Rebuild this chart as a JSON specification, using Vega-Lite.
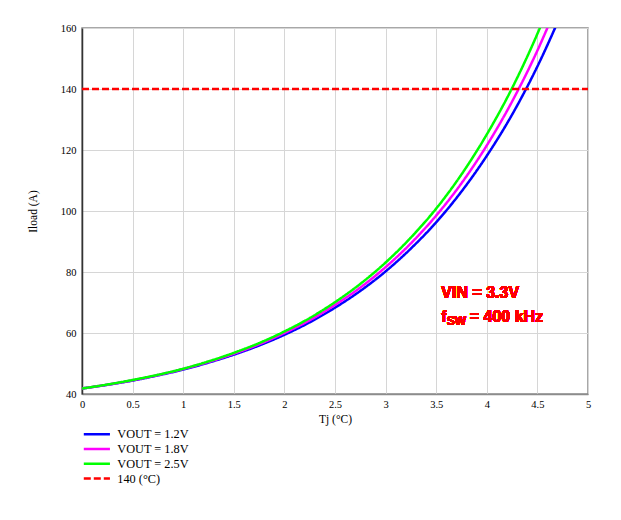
{
  "$schema": "https://vega.github.io/schema/vega-lite/v6.json",
  "width": 506,
  "height": 366,
  "autosize": {"type": "none"},
  "padding": {"left": 82, "top": 28, "right": 33, "bottom": 126},
  "background": "white",
  "config": {
    "view": {"stroke": "#8c8c8c", "strokeWidth": 1.5},
    "font": "Liberation Serif",
    "axis": {
      "labelFont": "Liberation Serif",
      "titleFont": "Liberation Serif",
      "labelFontSize": 10.5,
      "titleFontSize": 11.5,
      "titleFontWeight": "normal",
      "labelColor": "#000",
      "titleColor": "#000",
      "gridColor": "#d6d6d6",
      "gridWidth": 1,
      "ticks": false,
      "domainWidth": 1.5
    },
    "legend": {
      "labelFont": "Liberation Serif",
      "labelFontSize": 12.3,
      "labelColor": "#000"
    }
  },
  "data": {
    "values": [
      {"series": "VOUT = 1.2V", "t": 0, "i": 41.8},
      {"series": "VOUT = 1.2V", "t": 0.25, "i": 43.0},
      {"series": "VOUT = 1.2V", "t": 0.5, "i": 44.4},
      {"series": "VOUT = 1.2V", "t": 0.75, "i": 46.1},
      {"series": "VOUT = 1.2V", "t": 1.0, "i": 48.0},
      {"series": "VOUT = 1.2V", "t": 1.25, "i": 50.3},
      {"series": "VOUT = 1.2V", "t": 1.5, "i": 52.9},
      {"series": "VOUT = 1.2V", "t": 1.75, "i": 55.9},
      {"series": "VOUT = 1.2V", "t": 2.0, "i": 59.4},
      {"series": "VOUT = 1.2V", "t": 2.25, "i": 63.5},
      {"series": "VOUT = 1.2V", "t": 2.5, "i": 68.3},
      {"series": "VOUT = 1.2V", "t": 2.75, "i": 73.8},
      {"series": "VOUT = 1.2V", "t": 3.0, "i": 80.2},
      {"series": "VOUT = 1.2V", "t": 3.25, "i": 87.7},
      {"series": "VOUT = 1.2V", "t": 3.5, "i": 96.3},
      {"series": "VOUT = 1.2V", "t": 3.75, "i": 106.4},
      {"series": "VOUT = 1.2V", "t": 4.0, "i": 118.1},
      {"series": "VOUT = 1.2V", "t": 4.25, "i": 131.6},
      {"series": "VOUT = 1.2V", "t": 4.5, "i": 147.4},
      {"series": "VOUT = 1.2V", "t": 4.75, "i": 165.7},
      {"series": "VOUT = 1.8V", "t": 0, "i": 41.8},
      {"series": "VOUT = 1.8V", "t": 0.25, "i": 43.05},
      {"series": "VOUT = 1.8V", "t": 0.5, "i": 44.5},
      {"series": "VOUT = 1.8V", "t": 0.75, "i": 46.2},
      {"series": "VOUT = 1.8V", "t": 1.0, "i": 48.2},
      {"series": "VOUT = 1.8V", "t": 1.25, "i": 50.5},
      {"series": "VOUT = 1.8V", "t": 1.5, "i": 53.2},
      {"series": "VOUT = 1.8V", "t": 1.75, "i": 56.3},
      {"series": "VOUT = 1.8V", "t": 2.0, "i": 60.0},
      {"series": "VOUT = 1.8V", "t": 2.25, "i": 64.2},
      {"series": "VOUT = 1.8V", "t": 2.5, "i": 69.2},
      {"series": "VOUT = 1.8V", "t": 2.75, "i": 74.9},
      {"series": "VOUT = 1.8V", "t": 3.0, "i": 81.6},
      {"series": "VOUT = 1.8V", "t": 3.25, "i": 89.4},
      {"series": "VOUT = 1.8V", "t": 3.5, "i": 98.5},
      {"series": "VOUT = 1.8V", "t": 3.75, "i": 109.1},
      {"series": "VOUT = 1.8V", "t": 4.0, "i": 121.5},
      {"series": "VOUT = 1.8V", "t": 4.25, "i": 135.9},
      {"series": "VOUT = 1.8V", "t": 4.5, "i": 152.6},
      {"series": "VOUT = 1.8V", "t": 4.75, "i": 172.1},
      {"series": "VOUT = 2.5V", "t": 0, "i": 41.8},
      {"series": "VOUT = 2.5V", "t": 0.25, "i": 43.1},
      {"series": "VOUT = 2.5V", "t": 0.5, "i": 44.6},
      {"series": "VOUT = 2.5V", "t": 0.75, "i": 46.3},
      {"series": "VOUT = 2.5V", "t": 1.0, "i": 48.3},
      {"series": "VOUT = 2.5V", "t": 1.25, "i": 50.7},
      {"series": "VOUT = 2.5V", "t": 1.5, "i": 53.5},
      {"series": "VOUT = 2.5V", "t": 1.75, "i": 56.7},
      {"series": "VOUT = 2.5V", "t": 2.0, "i": 60.5},
      {"series": "VOUT = 2.5V", "t": 2.25, "i": 64.9},
      {"series": "VOUT = 2.5V", "t": 2.5, "i": 70.1},
      {"series": "VOUT = 2.5V", "t": 2.75, "i": 76.1},
      {"series": "VOUT = 2.5V", "t": 3.0, "i": 83.1},
      {"series": "VOUT = 2.5V", "t": 3.25, "i": 91.3},
      {"series": "VOUT = 2.5V", "t": 3.5, "i": 100.8},
      {"series": "VOUT = 2.5V", "t": 3.75, "i": 112.0},
      {"series": "VOUT = 2.5V", "t": 4.0, "i": 125.1},
      {"series": "VOUT = 2.5V", "t": 4.25, "i": 140.3},
      {"series": "VOUT = 2.5V", "t": 4.5, "i": 158.1},
      {"series": "VOUT = 2.5V", "t": 4.75, "i": 178.9},
      {"series": "140 (°C)", "t": 0, "i": 140},
      {"series": "140 (°C)", "t": 5, "i": 140}
    ]
  },
  "layer": [
    {
      "mark": {"type": "line", "interpolate": "monotone", "clip": true},
      "encoding": {
        "x": {
          "field": "t", "type": "quantitative",
          "scale": {"domain": [0, 5], "nice": false},
          "axis": {"title": "Tj (°C)", "values": [0, 0.5, 1, 1.5, 2, 2.5, 3, 3.5, 4, 4.5, 5], "format": "~g", "labelPadding": 5, "titlePadding": 4, "domainColor": "#8c8c8c", "labelFlush": false}
        },
        "y": {
          "field": "i", "type": "quantitative",
          "scale": {"domain": [40, 160], "nice": false, "zero": false},
          "axis": {"title": "Iload (A)", "values": [40, 60, 80, 100, 120, 140, 160], "labelPadding": 6, "titlePadding": 22, "domainColor": "#333333"}
        },
        "color": {
          "field": "series", "type": "nominal",
          "scale": {
            "domain": ["VOUT = 1.2V", "VOUT = 1.8V", "VOUT = 2.5V", "140 (°C)"],
            "range": ["#0000ff", "#ff00ff", "#00ff00", "#ff0000"]
          },
          "legend": {
            "title": null,
            "orient": "none",
            "legendX": 0,
            "legendY": 400,
            "direction": "vertical",
            "symbolType": "M-1,0H5",
            "symbolSize": 76,
            "symbolStrokeWidth": 2.5,
            "labelOffset": 23,
            "rowPadding": 1.8
          }
        },
        "strokeDash": {
          "field": "series", "type": "nominal",
          "scale": {
            "domain": ["VOUT = 1.2V", "VOUT = 1.8V", "VOUT = 2.5V", "140 (°C)"],
            "range": [[1, 0], [1, 0], [1, 0], [7, 3]]
          },
          "legend": {
            "title": null,
            "orient": "none",
            "legendX": 0,
            "legendY": 400,
            "direction": "vertical",
            "symbolType": "M-1,0H5",
            "symbolSize": 76,
            "symbolStrokeWidth": 2.5,
            "labelOffset": 23,
            "rowPadding": 1.8
          }
        },
        "strokeWidth": {
          "field": "series", "type": "nominal",
          "scale": {
            "domain": ["VOUT = 1.2V", "VOUT = 1.8V", "VOUT = 2.5V", "140 (°C)"],
            "range": [2.5, 2.5, 2.5, 3]
          },
          "legend": null
        }
      }
    },
    {
      "mark": {"type": "text", "font": "Liberation Sans", "fontWeight": "bold", "fontSize": 16, "fill": "#ff0000", "stroke": null, "align": "left", "baseline": "alphabetic"},
      "encoding": {"x": {"datum": 3.55}, "y": {"datum": 71.4}, "text": {"value": "VIN = 3.3V"}}
    },
    {
      "mark": {"type": "text", "font": "Liberation Sans", "fontWeight": "bold", "fontSize": 16, "fill": "#ff0000", "stroke": null, "align": "left", "baseline": "alphabetic"},
      "encoding": {"x": {"datum": 3.55}, "y": {"datum": 63.7}, "text": {"value": "f"}}
    },
    {
      "mark": {"type": "text", "font": "Liberation Sans", "fontWeight": "bold", "fontSize": 12, "fill": "#ff0000", "stroke": null, "align": "left", "baseline": "alphabetic", "dx": 5.5},
      "encoding": {"x": {"datum": 3.55}, "y": {"datum": 62.6}, "text": {"value": "SW"}}
    },
    {
      "mark": {"type": "text", "font": "Liberation Sans", "fontWeight": "bold", "fontSize": 16, "fill": "#ff0000", "stroke": null, "align": "left", "baseline": "alphabetic", "dx": 28.5},
      "encoding": {"x": {"datum": 3.55}, "y": {"datum": 63.7}, "text": {"value": "= 400 kHz"}}
    }
  ]
}
